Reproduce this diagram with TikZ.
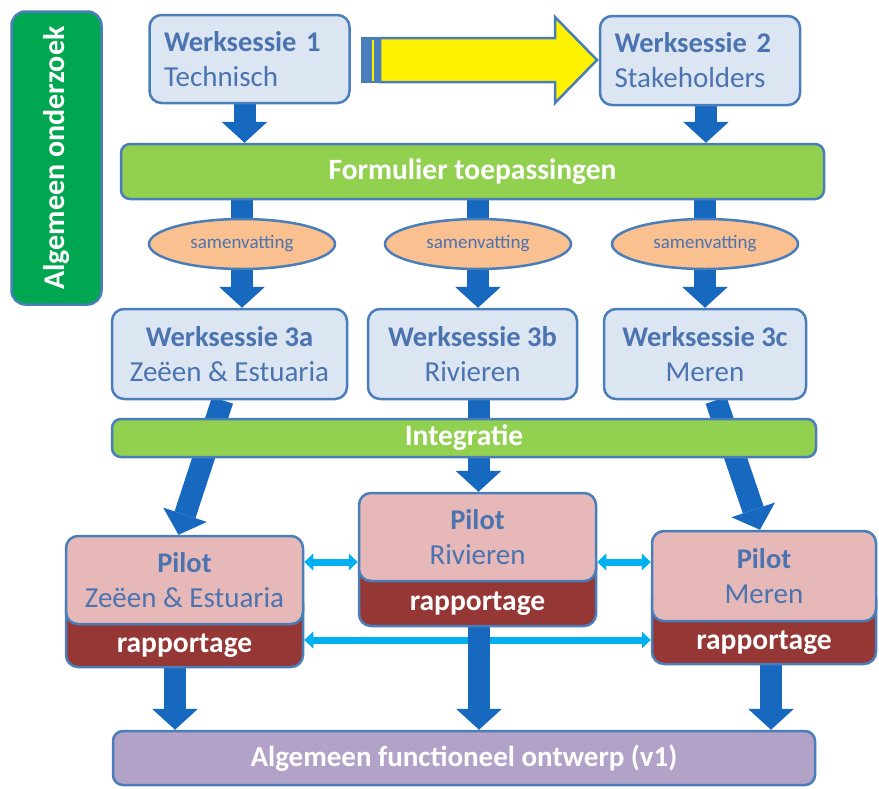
\documentclass[tikz,border=0pt]{standalone}
\usepackage{fontspec}
\setmainfont{Carlito}
\usetikzlibrary{arrows.meta,shapes.geometric,calc}
\definecolor{boxblue}{HTML}{DCE6F2}
\definecolor{edge}{HTML}{4A7EBB}
\definecolor{ink}{HTML}{4A73B0}
\definecolor{flow}{HTML}{1769C0}
\definecolor{darkgreen}{HTML}{00A650}
\definecolor{lightgreen}{HTML}{92D050}
\definecolor{peach}{HTML}{FAC090}
\definecolor{rose}{HTML}{E6B9B8}
\definecolor{brick}{HTML}{953735}
\definecolor{lilac}{HTML}{B3A2C7}
\definecolor{sky}{HTML}{00B0F0}
\pgfdeclarelayer{back}
\pgfsetlayers{back,main}
\newcommand\headline[1]{{\fontsize{28.5}{35}\selectfont\bfseries #1}}
\tikzset{
  panel/.style={draw=edge, line width=2.5pt, rounded corners=12pt, inner sep=0pt},
  session/.style={panel, fill=boxblue, text=ink, font=\fontsize{29}{35}\selectfont},
  band/.style={draw=edge, line width=2.5pt, rounded corners=9pt, inner sep=0pt,
    fill=lightgreen, text=white, font=\bfseries\fontsize{29.5}{32}\selectfont},
  summary/.style={ellipse, draw=edge, line width=2.5pt, fill=peach, text=ink,
    inner sep=0pt, font=\fontsize{19}{22}\selectfont},
  pilottop/.style={panel, fill=rose, text=ink, align=center, font=\fontsize{29}{35}\selectfont},
  pilotbase/.style={panel, fill=brick},
  reporttext/.style={text=white, inner sep=0pt, font=\bfseries\fontsize{29.5}{32}\selectfont},
  flowarrow/.style={draw=flow, line width=22pt, -{Triangle[width=46pt,length=21pt,line width=0pt]}},
  flowshaft/.style={draw=flow, line width=22pt},
  linkarrow/.style={draw=sky, line width=7pt,
    {Triangle[width=17pt,length=9pt,line width=0pt]}-{Triangle[width=17pt,length=9pt,line width=0pt]}},
}
\begin{document}
\begin{tikzpicture}[x=1pt,y=-1pt]
\useasboundingbox (0,0) rectangle (879,788);

% side label
\node[panel, rounded corners=14pt, fill=darkgreen, text=white, rotate=90,
  minimum width=293pt, minimum height=90pt,
  font=\bfseries\fontsize{30}{32}\selectfont] (alg) at (56.5,158) {Algemeen onderzoek};

% first two sessions
\node[session, minimum width=200pt, minimum height=88pt, text width=171pt, align=left]
  (w1) at (249.5,59) {\headline{Werksessie 1}\\Technisch};
\node[session, minimum width=200pt, minimum height=89pt, text width=171pt, align=left]
  (w2) at (700,60.5) {\headline{Werksessie 2}\\Stakeholders};

% striped arrow from session 1 to session 2
\fill[edge] (361,37) rectangle (381,83);
\fill[yellow] (372,39.5) rectangle (374.3,80.5);
\draw[draw=edge, fill=yellow, line width=2.5pt, line join=miter]
  (380,38) -- (555,38) -- (555,17) -- (597,60) -- (555,103) -- (555,82) -- (380,82) -- cycle;

% form bar and summaries
\node[band, minimum width=703pt, minimum height=55pt] (form) at (472.5,171.5) {Formulier toepassingen};
\node[summary, minimum width=186pt, minimum height=50pt] (e1) at (242,244) {samenvatting};
\node[summary, minimum width=186pt, minimum height=50pt] (e2) at (478,244) {samenvatting};
\node[summary, minimum width=186pt, minimum height=50pt] (e3) at (705,244) {samenvatting};

% third round of sessions
\node[session, align=center, minimum width=235pt, minimum height=90pt] (w3a) at (229.5,354)
  {\headline{Werksessie 3a}\\Zeëen \& Estuaria};
\node[session, align=center, minimum width=209pt, minimum height=90pt] (w3b) at (472.5,354)
  {\headline{Werksessie 3b}\\Rivieren};
\node[session, align=center, minimum width=202pt, minimum height=90pt] (w3c) at (705,354)
  {\headline{Werksessie 3c}\\Meren};

% integration bar
\node[band, minimum width=704pt, minimum height=38pt] (integ) at (464,438) {Integratie};

% pilots: report base with the pilot panel on top
\node[pilotbase, minimum width=237pt, minimum height=76pt] (rz) at (184.5,629) {};
\node[pilottop, minimum width=237pt, minimum height=88pt] (pz) at (184.5,580)
  {\headline{Pilot}\\Zeëen \& Estuaria};
\node[reporttext] (tz) at (184.5,646) {rapportage};

\node[pilotbase, minimum width=237pt, minimum height=75pt] (rr) at (477.5,588.5) {};
\node[pilottop, minimum width=237pt, minimum height=88pt] (pr) at (477.5,537)
  {\headline{Pilot}\\Rivieren};
\node[reporttext] (tr) at (477.5,604) {rapportage};

\node[pilotbase, minimum width=224pt, minimum height=78pt] (rm) at (764,625) {};
\node[pilottop, minimum width=224pt, minimum height=90pt] (pm) at (764,576)
  {\headline{Pilot}\\Meren};
\node[reporttext] (tm) at (764,643) {rapportage};

% final design
\node[panel, rounded corners=10pt, fill=lilac, text=white, minimum width=702pt, minimum height=54pt,
  font=\bfseries\fontsize{29}{32}\selectfont] (final) at (464,758) {Algemeen functioneel ontwerp (v1)};

% connectors
\begin{pgfonlayer}{back}
  \draw[flowarrow] ([xshift=-5pt]w1.south) -- ([xshift=-5pt]w1.south |- form.north);
  \draw[flowarrow] ([xshift=6pt]w2.south) -- ([xshift=6pt]w2.south |- form.north);
  \foreach \e/\w in {e1/w3a, e2/w3b, e3/w3c} {
    \draw[flowshaft] (form.south -| \e) -- (\e.north);
    \draw[flowarrow] (\e.south) -- (\e.south |- \w.north);
  }
  \draw[flowarrow] ([xshift=-7pt]w3a.south) -- ([xshift=-6pt]pz.north);
  \draw[flowarrow] ([xshift=6pt]w3b.south) -- ([xshift=6pt]w3b.south |- pr.north);
  \draw[flowarrow] ([xshift=11pt]w3c.south) -- ([xshift=-4pt]pm.north);
  \draw[linkarrow] ([yshift=18pt]pz.east) -- ([yshift=18pt]pz.east -| pr.west);
  \draw[linkarrow] ([yshift=-25pt]pr.east) -- ([yshift=-25pt]pr.east -| pm.west);
  \draw[linkarrow] ([yshift=-11pt]rz.east) -- ([yshift=-11pt]rz.east -| rm.west);
  \draw[flowarrow] ([xshift=-9.5pt]rz.south) -- ([xshift=-9.5pt]rz.south |- final.north);
  \draw[flowarrow] ([xshift=1.5pt]rr.south) -- ([xshift=1.5pt]rr.south |- final.north);
  \draw[flowarrow] ([xshift=7pt]rm.south) -- ([xshift=7pt]rm.south |- final.north);
\end{pgfonlayer}
\end{tikzpicture}
\end{document}
